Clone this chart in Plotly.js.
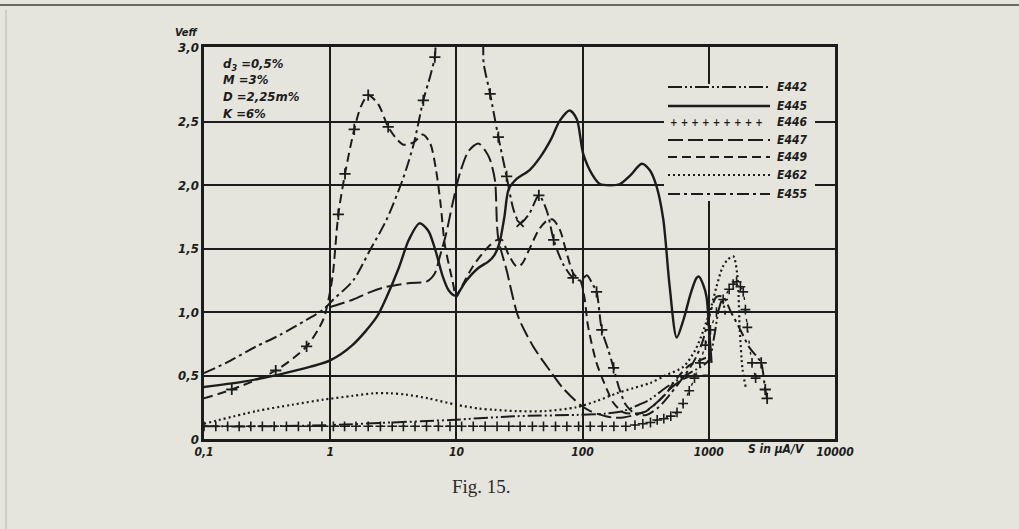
<!DOCTYPE html>
<html>
<head>
<meta charset="utf-8">
<script src="https://cdn.plot.ly/plotly-3.0.1.min.js"></script>
<style>html,body{margin:0;padding:0;background:#e4e4dc;}#chart{width:1019px;height:529px;}</style>
</head>
<body>
<div id="chart"></div>
<script>
// ---------------- data ----------------
const xTickVals = [0.1, 1, 10, 100, 1000, 10000];
const xTickText = ['0,1', '1', '10', '100', '1000', '10000'];
const yTickVals = [0, 0.5, 1.0, 1.5, 2.0, 2.5, 3.09];
const yTickText = ['0', '0,5', '1,0', '1,5', '2,0', '2,5', '3,0'];

const seriesNames = ['E442', 'E445', 'E446', 'E447', 'E449', 'E462', 'E455'];

// E442  dash-dot-dot
const x442 = [0.1, 0.3, 1, 3, 9, 30, 90, 150, 210, 280, 340, 450, 620, 800, 1000, 1100, 1200, 1280, 1350];
const y442 = [0.1, 0.1, 0.11, 0.13, 0.15, 0.18, 0.19, 0.2, 0.22, 0.27, 0.31, 0.4, 0.49, 0.55, 0.62, 0.8, 1.02, 1.1, 0.98];

// E445  solid
const x445 = [0.1, 0.2, 0.4, 0.7, 1, 1.5, 2.33, 2.8, 3.5, 4.2, 5.1, 6.0, 6.9, 7.8, 8.7, 9.8, 12, 15, 18, 20, 22, 24, 26, 30, 38, 46, 56, 66, 79, 90, 101, 120, 137, 165, 198, 240, 294, 340, 386, 436, 490, 557, 630, 720, 800, 836, 900, 960, 1000, 1050];
const y445 = [0.41, 0.45, 0.51, 0.57, 0.62, 0.74, 0.96, 1.12, 1.35, 1.57, 1.70, 1.64, 1.47, 1.28, 1.17, 1.13, 1.25, 1.35, 1.4, 1.45, 1.55, 1.75, 1.97, 2.05, 2.12, 2.22, 2.36, 2.51, 2.59, 2.52, 2.25, 2.08, 2.01, 2.0, 2.01, 2.08, 2.17, 2.12, 1.99, 1.73, 1.2, 0.8, 0.94, 1.15, 1.27, 1.28, 1.22, 1.12, 0.9, 0.6];

// E446  crosses
const x446 = [0.1, 0.124, 0.154, 0.19, 0.235, 0.29, 0.36, 0.45, 0.56, 0.69, 0.86, 1.06, 1.3, 1.6, 2, 2.5, 3.1, 3.8, 4.7, 5.8, 7.2, 8.9, 11, 13.6, 16.9, 21, 26, 32, 40, 49, 61, 75, 93, 115, 143, 177, 220, 260, 300, 345, 390, 440, 500, 560, 626, 700, 770, 850, 940, 1030, 1150, 1300, 1450, 1560, 1660, 1780, 1875, 1950, 2020, 2200, 2350];
const y446 = [0.1, 0.1, 0.1, 0.1, 0.1, 0.1, 0.1, 0.1, 0.1, 0.1, 0.1, 0.1, 0.1, 0.1, 0.1, 0.1, 0.1, 0.1, 0.1, 0.1, 0.1, 0.1, 0.1, 0.1, 0.1, 0.1, 0.1, 0.1, 0.1, 0.1, 0.1, 0.1, 0.1, 0.1, 0.1, 0.1, 0.1, 0.11, 0.12, 0.13, 0.15, 0.16, 0.18, 0.21, 0.28, 0.38, 0.48, 0.6, 0.74, 0.86, 1.0, 1.1, 1.18, 1.22, 1.24, 1.2, 1.16, 1.02, 0.88, 0.6, 0.48];

// E447  long dash
const x447 = [1.0, 1.52, 2.1, 2.8, 4.3, 5.8, 6.7, 7.4, 8.3, 9.3, 10.7, 12.5, 14.9, 17, 18.5, 20.2, 21.4, 25, 31, 40.6, 55, 70, 95.6, 115, 140, 170, 210, 260, 320, 400, 500, 620, 760, 900, 1000];
const y447 = [1.04, 1.1, 1.16, 1.2, 1.23, 1.24, 1.3, 1.44, 1.62, 1.85, 2.1, 2.27, 2.33, 2.27, 2.2, 2.04, 1.59, 1.33, 0.96, 0.73, 0.54, 0.4, 0.27, 0.22, 0.19, 0.17, 0.17, 0.19, 0.22, 0.3, 0.4, 0.47, 0.5, 0.5, 0.5];

// E449  dashed
const x449 = [0.1, 0.166, 0.37, 0.65, 0.88, 0.97, 1.05, 1.16, 1.31, 1.55, 1.75, 2.0, 2.4, 2.88, 3.4, 3.8, 4.6, 5.4, 6.2, 6.9, 7.5, 8.1, 9.3, 10, 11, 13.5, 16, 18.5, 21, 22.9, 26, 30, 33, 38, 45, 52, 58, 66, 75, 85, 96, 104, 110, 129, 156, 174, 210, 250, 300, 360, 450, 560, 700, 850, 1000];
const y449 = [0.32, 0.39, 0.54, 0.73, 0.94, 1.1, 1.3, 1.77, 2.09, 2.44, 2.62, 2.71, 2.64, 2.46, 2.36, 2.32, 2.34, 2.40, 2.33, 2.12, 1.85, 1.53, 1.25, 1.12, 1.2, 1.36, 1.46, 1.53, 1.57, 1.57, 1.45, 1.36, 1.38, 1.5, 1.65, 1.72, 1.73, 1.65, 1.46, 1.3, 1.25, 1.1, 0.9, 0.6, 0.39, 0.29, 0.21, 0.2, 0.21, 0.26, 0.35, 0.48, 0.58, 0.62, 0.65];
const x449Marks = [0.166, 0.37, 0.65, 1.16, 1.31, 1.55, 2.0, 2.88];
const y449Marks = [0.39, 0.54, 0.73, 1.77, 2.09, 2.44, 2.71, 2.46];

// E462  dotted
const x462 = [0.1, 0.26, 0.5, 0.88, 1.5, 2.2, 3, 4, 6, 10, 15, 20, 30, 50, 89, 130, 186, 250, 340, 450, 630, 780, 910, 1050, 1150, 1280, 1400, 1560, 1680, 1760, 1850, 1960];
const y462 = [0.12, 0.22, 0.27, 0.31, 0.34, 0.36, 0.36, 0.35, 0.32, 0.27, 0.24, 0.23, 0.22, 0.22, 0.25, 0.3, 0.36, 0.4, 0.44, 0.5, 0.57, 0.7, 0.86, 1.05, 1.2, 1.35, 1.41, 1.44, 1.3, 0.86, 0.55, 0.41];

// E455  dash-dot
const x455 = [0.1, 0.15, 0.26, 0.4, 0.65, 0.88, 1.06, 1.52, 2.07, 2.8, 3.8, 4.6, 5.47, 6.2, 6.75, 7.3, 15.2, 16.5, 18.5, 21.5, 25, 28.5, 32, 38, 45, 52, 59, 70, 84, 97, 108, 120, 129, 142, 160, 176, 195, 220, 260, 320, 400, 500, 620, 750, 880, 1000, 1150, 1300, 1500, 1800, 2100, 2400, 2600, 2800, 2900];
const y455 = [0.52, 0.6, 0.73, 0.82, 0.94, 1.02, 1.1, 1.25, 1.49, 1.73, 2.06, 2.33, 2.67, 2.86, 3.01, 3.25, 3.25, 2.95, 2.72, 2.38, 2.07, 1.8, 1.7, 1.78, 1.92, 1.8, 1.57, 1.38, 1.27, 1.25, 1.29, 1.22, 1.16, 0.86, 0.7, 0.56, 0.4, 0.27, 0.2, 0.19, 0.25, 0.36, 0.48, 0.6, 0.75, 0.95, 1.12, 1.12, 1.0, 0.85, 0.72, 0.65, 0.6, 0.39, 0.32];
const x455Marks = [5.47, 6.75, 18.5, 21.5, 25, 45, 59, 84, 129, 142, 176, 2600, 2800, 2900];
const y455Marks = [2.67, 3.01, 2.72, 2.38, 2.07, 1.92, 1.57, 1.27, 1.16, 0.86, 0.56, 0.6, 0.39, 0.32];
const x455Cross = [32];
const y455Cross = [1.7];

const paramLines = ['d<sub>3</sub> =0,5%', 'M =3%', 'D =2,25m%', 'K =6%'];

// ---------------- styling ----------------
const INK = '#1c1c1c';
const BG = '#e5e5de';
const HAND = 'DejaVu Sans Condensed, Liberation Sans Narrow, sans-serif';

const DASH = {
  E442: '14px,3px,2px,3px,2px,3px',
  E445: 'solid',
  E446: '3px,8px',
  E447: '15px,5px',
  E449: '9px,5px',
  E462: '2px,3px',
  E455: '12px,4px,3px,4px'
};

function curve(name, x, y, width) {
  return {type: 'scatter', mode: 'lines', name: name, x: x, y: y, showlegend: false, hoverinfo: 'skip',
          line: {color: INK, width: width, dash: DASH[name], shape: 'spline', smoothing: 0.8}};
}
function marks(name, x, y, sym, size, lw) {
  return {type: 'scatter', mode: 'markers', name: name + ' marks', x: x, y: y, showlegend: false, hoverinfo: 'skip',
          cliponaxis: true,
          marker: {symbol: sym, size: size, color: INK, line: {color: INK, width: lw}}};
}

const traces = [
  curve('E442', x442, y442, 2),
  curve('E445', x445, y445, 2.4),
  curve('E446', x446, y446, 1.4),
  marks('E446', x446, y446, 'cross-thin', 7, 1.6),
  curve('E447', x447, y447, 2),
  curve('E449', x449, y449, 2),
  marks('E449', x449Marks, y449Marks, 'cross-thin', 8, 1.8),
  curve('E462', x462, y462, 2.2),
  curve('E455', x455, y455, 2),
  marks('E455', x455Marks, y455Marks, 'cross-thin', 8, 1.8),
  marks('E455', x455Cross, y455Cross, 'x-thin', 7, 1.8)
];

// ---------------- layout helpers (pixel -> paper) ----------------
const PL = 204, PR = 835, PT = 47, PB = 439;
const px = v => (v - PL) / (PR - PL);
const py = v => (PB - v) / (PB - PT);

const shapes = [];
const annotations = [];

// scan edges
shapes.push({type: 'line', xref: 'paper', yref: 'paper', x0: px(0), x1: px(1019), y0: py(5), y1: py(5), line: {color: '#6a6a66', width: 2}});
shapes.push({type: 'line', xref: 'paper', yref: 'paper', x0: px(6), x1: px(6), y0: py(10), y1: py(529), line: {color: '#b8b8b0', width: 1}});

// legend box (hand-drawn legend of the figure)
shapes.push({type: 'rect', xref: 'paper', yref: 'paper', x0: px(664), x1: px(815), y0: py(201), y1: py(84), fillcolor: BG, line: {width: 0}, layer: 'above'});
const legendRows = [87, 106, 122, 140, 157, 175, 194];
seriesNames.forEach((nm, i) => {
  const yy = py(legendRows[i]);
  if (nm === 'E446') {
    annotations.push({xref: 'paper', yref: 'paper', x: px(668), y: yy, text: '+ + + + + + + + +', showarrow: false,
      xanchor: 'left', yanchor: 'middle', font: {family: HAND, size: 10, color: INK, weight: 'bold'}});
  } else {
    shapes.push({type: 'line', xref: 'paper', yref: 'paper', x0: px(668), x1: px(770), y0: yy, y1: yy, layer: 'above',
      line: {color: INK, width: nm === 'E445' ? 2.4 : 2, dash: DASH[nm]}});
  }
  annotations.push({xref: 'paper', yref: 'paper', x: px(775), y: yy, text: nm, showarrow: false,
    xanchor: 'left', yanchor: 'middle', font: {family: HAND, size: 12, color: INK, style: 'italic', weight: 'bold'}});
});

// parameter block
const paramRows = [64, 80, 96, 113];
paramLines.forEach((t, i) => {
  annotations.push({xref: 'paper', yref: 'paper', x: px(221), y: py(paramRows[i]), text: t, showarrow: false,
    xanchor: 'left', yanchor: 'middle', font: {family: HAND, size: 13, color: INK, style: 'italic', weight: 'bold'}});
});

// axis captions
annotations.push({xref: 'paper', yref: 'paper', x: px(187), y: py(33), text: 'Veff', showarrow: false,
  xanchor: 'center', yanchor: 'middle', font: {family: HAND, size: 11, color: INK, style: 'italic', weight: 'bold'}});
annotations.push({xref: 'paper', yref: 'paper', x: px(776), y: py(449), text: 'S in µA/V', showarrow: false,
  xanchor: 'center', yanchor: 'middle', font: {family: HAND, size: 12, color: INK, style: 'italic', weight: 'bold'}});
annotations.push({xref: 'paper', yref: 'paper', x: px(481), y: py(487), text: 'Fig. 15.', showarrow: false,
  xanchor: 'center', yanchor: 'middle', font: {family: 'Liberation Serif, DejaVu Serif, serif', size: 19, color: '#2a2a2a'}});

const layout = {
  width: 1019, height: 529,
  margin: {l: PL, r: 1019 - PR, t: PT, b: 529 - PB, pad: 0},
  paper_bgcolor: BG, plot_bgcolor: BG,
  showlegend: false,
  xaxis: {type: 'log', range: [-1, 4], tickvals: xTickVals, ticktext: xTickText,
    showgrid: true, gridcolor: INK, gridwidth: 2, zeroline: false,
    showline: true, linecolor: INK, linewidth: 2.6, mirror: true, ticks: '',
    tickfont: {family: HAND, size: 12, color: INK, style: 'italic', weight: 'bold'}},
  yaxis: {range: [0, 3.09], tickvals: yTickVals, ticktext: yTickText,
    showgrid: true, gridcolor: INK, gridwidth: 2, zeroline: false,
    showline: true, linecolor: INK, linewidth: 2.6, mirror: true, ticks: '',
    tickfont: {family: HAND, size: 13, color: INK, style: 'italic', weight: 'bold'}},
  shapes: shapes,
  annotations: annotations
};

Plotly.newPlot('chart', traces, layout, {staticPlot: true, displayModeBar: false});
</script>
</body>
</html>
